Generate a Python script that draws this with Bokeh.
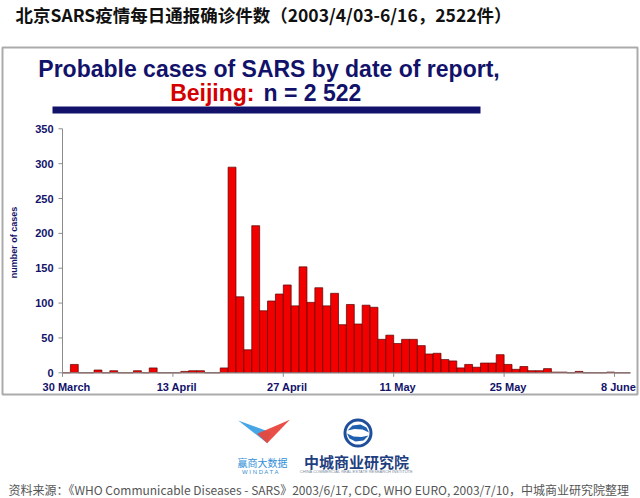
import numpy as np
import pandas as pd
from bokeh.plotting import figure
from bokeh.models import Range1d, ColumnDataSource
from bokeh.core.properties import value
from bokeh.embed import file_html
from bokeh.resources import INLINE

# ---------------- data ----------------
start_date = "2003-03-30"
cases = [0, 12, 0, 0, 4, 0, 3, 0, 0, 3, 0, 7, 0, 0, 0, 2, 3, 3, 0, 0,
         7, 295, 109, 33, 211, 89, 103, 113, 126, 96, 152, 101,
         122, 96, 114, 69, 98, 70, 97, 94, 48, 54,
         42, 48, 48, 39, 27, 28, 19, 17, 7, 12, 8, 14, 14, 26, 12,
         5, 9, 3, 3, 6, 1, 1, 0, 2, 0, 0, 0, 1, 0, 0]
tick_dates = ["2003-03-30", "2003-04-13", "2003-04-27", "2003-05-11", "2003-05-25", "2003-06-08"]
tick_labels = ["30 March", "13 April", "27 April", "11 May", "25 May", "8 June"]
y_ticks = [0, 50, 100, 150, 200, 250, 300, 350]

main_title = "北京SARS疫情每日通报确诊件数（2003/4/03-6/16，2522件）"
slide_title = "Probable cases of SARS by date of report,"
slide_sub_red = "Beijing:"
slide_sub_blue = "n = 2 522"
y_title = "number of cases"
source_note = "资料来源：《WHO Communicable Diseases - SARS》2003/6/17, CDC, WHO EURO, 2003/7/10，中城商业研究院整理"

# ---------------- layout constants (pixels) ----------------
W, H = 640, 498
PX0 = 62.0          # pixel x of the value axis
PXD = 7.886         # pixels per day
PY0 = 372.3         # pixel y of the zero line
PYU = 244.0 / 350   # pixels per case
X_END = 72.03       # axis length in days

NAVY = "#12126a"
RED = "#d40000"
AXIS = "#8c8c8c"

t0 = pd.Timestamp(start_date)
dates = pd.date_range(start_date, periods=len(cases))
day_idx = np.arange(len(cases))
tick_pos = [(pd.Timestamp(d) - t0).days for d in tick_dates]
src = ColumnDataSource(dict(x=day_idx + 0.5, top=cases, date=dates.strftime("%Y-%m-%d")))

p = figure(width=W, height=H, output_backend="svg", toolbar_location=None,
           x_range=Range1d(-PX0 / PXD, (W - PX0) / PXD),
           y_range=Range1d(-(H - PY0) / PYU, PY0 / PYU),
           x_axis_type=None, y_axis_type=None,
           min_border=0, background_fill_color="white", border_fill_color="white")
p.outline_line_color = None
p.grid.visible = False
# pixel-space ranges for decorations
p.extra_x_ranges = {"px": Range1d(0, W)}
p.extra_y_ranges = {"py": Range1d(H, 0)}
PXR = dict(x_range_name="px", y_range_name="py")

# slide frame and navy rule
p.quad(left=2, right=637, top=47, bottom=394, fill_color=None, line_color="#ababab", line_width=2, **PXR)
p.quad(left=52, right=480, top=106, bottom=113, fill_color=NAVY, line_color=None, **PXR)

# bars
p.vbar(x="x", top="top", width=1.0, bottom=0, source=src,
       fill_color="#f20000", line_color="#5a0000", line_width=0.7)

# axes (drawn on the chart's own scales)
p.segment(x0=[0, 0], y0=[0, 0], x1=[X_END, 0], y1=[0, y_ticks[-1]], line_color=AXIS, line_width=1)
p.ray(x=tick_pos, y=[0] * len(tick_pos), length=4, length_units="screen", angle=-np.pi / 2,
      line_color=AXIS, line_width=1)
p.ray(x=[0] * len(y_ticks), y=y_ticks, length=4, length_units="screen", angle=np.pi,
      line_color=AXIS, line_width=1)
p.text(x=[t + 0.5 for t in tick_pos], y=[0] * len(tick_pos), text=tick_labels, y_offset=8,
       text_font=value("Liberation Sans"), text_font_style="bold", text_font_size="11px",
       text_color=NAVY, text_align="center", text_baseline="top")
p.text(x=[0] * len(y_ticks), y=y_ticks, text=[str(v) for v in y_ticks], x_offset=-9,
       text_font=value("Liberation Sans"), text_font_style="bold", text_font_size="11px",
       text_color=NAVY, text_align="right", text_baseline="middle")


def add_text(x, y, text, size, color, font="Liberation Sans", style="bold",
             align="left", baseline="middle", angle=0.0):
    p.text(x=[x], y=[y], text=[text], text_font=value(font), text_font_style=style,
           text_font_size=f"{size}px", text_color=color, text_align=align,
           text_baseline=baseline, angle=angle, **PXR)


add_text(15, 14, main_title, 17.5, "#111111", font="Noto Sans CJK SC", style="bold")
add_text(268.5, 68.3, slide_title, 23, NAVY, align="center", baseline="alphabetic")
add_text(254, 92.7, slide_sub_red, 23, RED, align="right", baseline="alphabetic")
add_text(263, 92.7, slide_sub_blue, 23, NAVY, align="left", baseline="alphabetic")
add_text(13, 242, y_title, 9, NAVY, align="center", baseline="middle", angle=np.pi / 2)

# WIN DATA logo
p.patch([237.7, 270, 266.7], [420, 431.7, 442.7], fill_color="#46a6e6", line_color=None, **PXR)
p.patch([289.3, 256.7, 266.7], [419.3, 433.3, 442.7], fill_color="#e8463c", fill_alpha=0.95,
        line_color=None, **PXR)
add_text(262, 462, "赢商大数据", 10, "#2f8fd8", font="Noto Sans CJK SC", style="normal", align="center")
add_text(262, 471, "W I N   D A T A", 6, "#3a8fd0", style="normal", align="center")

# research institute logo
p.circle(x=[357.5], y=[432.5], radius=13, fill_color=None, line_color="#1f4e9a", line_width=3, **PXR)
p.patch([347, 352, 360, 366, 368.5, 362, 354], [430, 425, 424, 427, 432, 429, 428.5],
        fill_color="#1f5fb0", line_color=None, **PXR)
p.patch([368, 363, 355, 349, 346.5, 353, 361], [435, 440, 441, 438, 433, 436, 436.5],
        fill_color="#1f5fb0", line_color=None, **PXR)
add_text(356, 461, "中城商业研究院", 15, "#1f3f80", font="Noto Sans CJK SC", style="bold", align="center")
add_text(356, 471, "CHINA COMMERCIAL REAL ESTATE RESEARCH INSTITUTE", 4, "#7a8aa0",
         style="normal", align="center")

add_text(8, 489, source_note, 12, "#555555", font="Noto Sans CJK SC", style="normal")

open("out.html", "w").write(file_html(p, INLINE))
